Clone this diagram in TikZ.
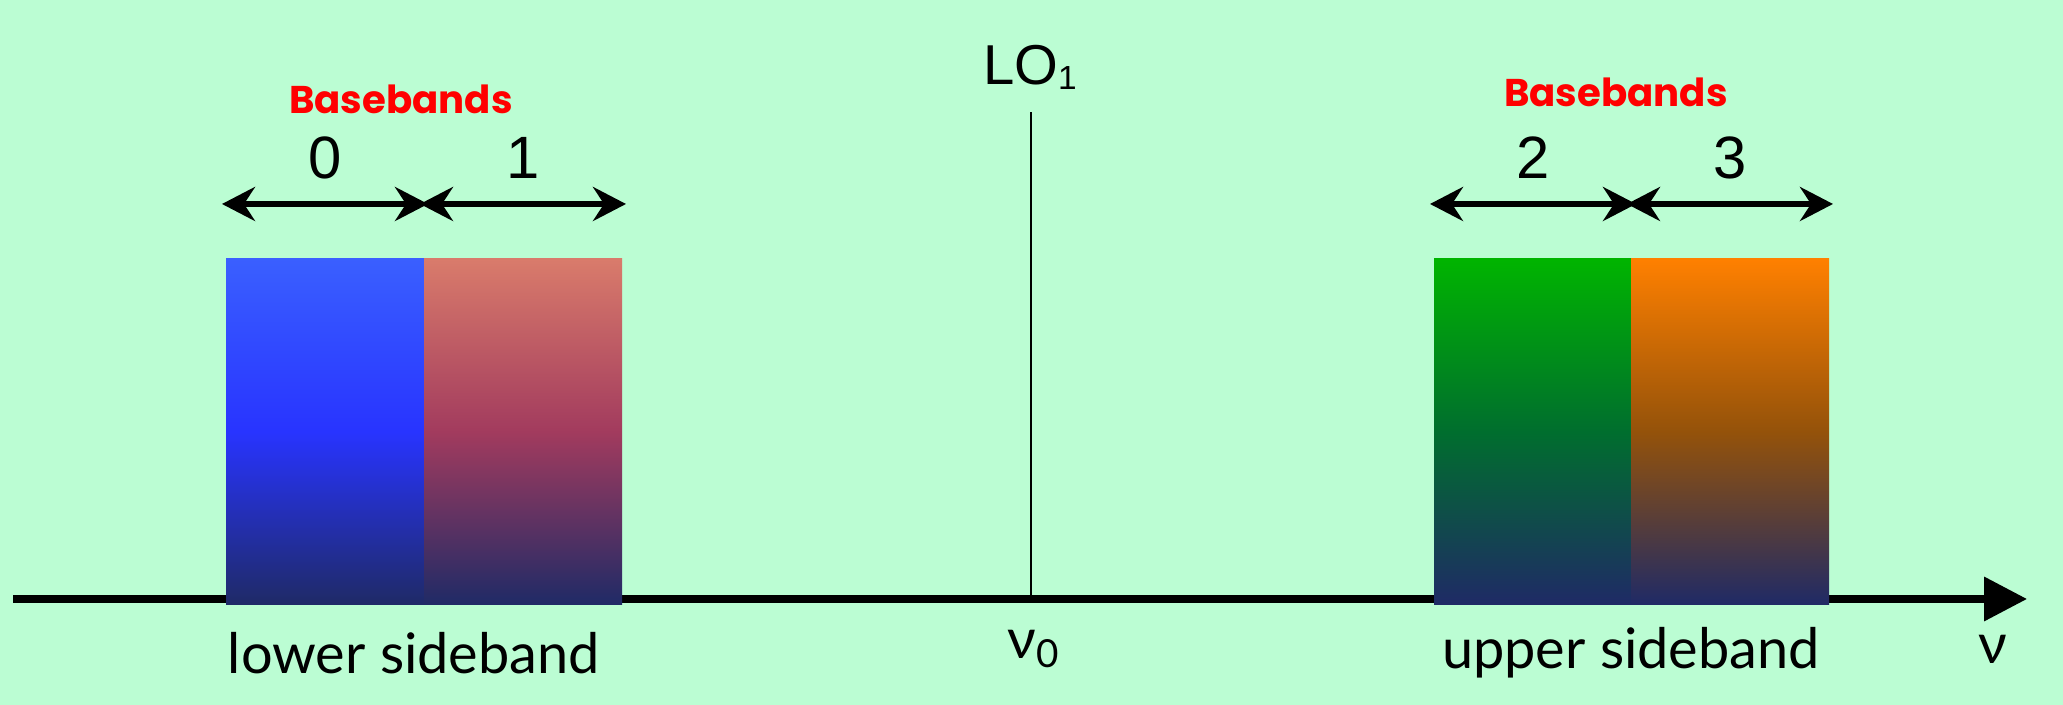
\documentclass[tikz,border=0pt]{standalone}
\usepackage{fontspec}
\setmainfont{Lato}
\newfontfamily\arialfont{Liberation Sans}
\newfontfamily\comicfont{Poppins}
\usepackage{tikz}
\usetikzlibrary{arrows.meta,positioning,calc}
\definecolor{mintbg}{HTML}{BBFDD3}
\definecolor{bandred}{HTML}{FF0000}
\definecolor{deepnavy}{HTML}{1F2A66}
\definecolor{blueTop}{HTML}{3A5FFF}
\definecolor{blueMid}{HTML}{2834FF}
\definecolor{redTop}{HTML}{D97B6B}
\definecolor{redMid}{HTML}{A23B5E}
\definecolor{greenTop}{HTML}{00B400}
\definecolor{greenMid}{HTML}{006E2E}
\definecolor{orangeTop}{HTML}{FF8000}
\definecolor{orangeMid}{HTML}{94520A}
\tikzset{
    every picture/.style={line cap=butt,line join=miter},
    bandbox/.style={rectangle,draw=none,minimum width=19.8mm,minimum height=34.6mm,
      inner sep=0pt,outer sep=0pt,anchor=south west,shading=axis,bottom color=deepnavy},
    bandarrow/.style={{Stealth[length=3.3mm,width=3.4mm,inset=1.1mm]}-{Stealth[length=3.3mm,width=3.4mm,inset=1.1mm]},
      line width=1.5pt,shorten <=-0.4mm,shorten >=-0.4mm},
    axisarrow/.style={-{Triangle[length=4.3mm,width=4.3mm]},line width=2pt},
    bandnum/.style={font=\arialfont\fontsize{17pt}{19pt}\selectfont,inner sep=0pt},
    bandtitle/.style={font=\comicfont\bfseries\fontsize{11pt}{13pt}\selectfont,text=bandred,inner sep=0pt},
    axislabel/.style={font=\fontsize{15.9pt}{18pt}\selectfont,inner sep=0pt}
}
\begin{document}
\begin{tikzpicture}
  \fill[mintbg] (0,0) rectangle (20.63,7.05);
  \useasboundingbox (0,0) rectangle (20.63,7.05);
  \coordinate (axstart) at (0.13,1.06);
  \coordinate (axend) at (20.27,1.06);
  \coordinate (lobase) at (10.31,1.06);
  \coordinate (lotop) at (10.31,5.93);
  \draw[axisarrow] (axstart) -- (axend);
  \draw[line width=0.6pt] (lobase) -- (lotop);
  % the four basebands
  \node[bandbox,top color=blueTop,middle color=blueMid] (bb0) at (2.26,1.00) {};
  \node[bandbox,top color=redTop,middle color=redMid] (bb1) at (4.24,1.00) {};
  \node[bandbox,top color=greenTop,middle color=greenMid] (bb2) at (14.34,1.00) {};
  \node[bandbox,top color=orangeTop,middle color=orangeMid] (bb3) at (16.31,1.00) {};
  \foreach \b in {0,1,2,3} {
    \draw[bandarrow] ([yshift=5.5mm]bb\b.north west) -- ([yshift=5.5mm]bb\b.north east);
    \node[bandnum] (num\b) at ([yshift=10.1mm]bb\b.north) {\b};
  }
  \node[bandtitle] (titleLow) at (4.01,6.06) {Basebands};
  \node[bandtitle] (titleUp) at (16.16,6.13) {Basebands};
  \node[font=\arialfont\fontsize{16pt}{18pt}\selectfont,inner sep=0pt,anchor=base]
    (lolabel) at (10.30,6.20) {LO\raisebox{-1.4pt}{\fontsize{9.5pt}{11pt}\selectfont 1}};
  \node[axislabel] (nuzero) at (10.33,0.56) {ν\raisebox{-0.3ex}{\fontsize{11pt}{12pt}\selectfont 0}};
  \node[axislabel] (lowside) at (4.14,0.52) {lower sideband};
  \node[axislabel] (upside) at (16.31,0.52) {upper sideband};
  \node[axislabel] (nuaxis) at (19.93,0.56) {ν};
\end{tikzpicture}
\end{document}
